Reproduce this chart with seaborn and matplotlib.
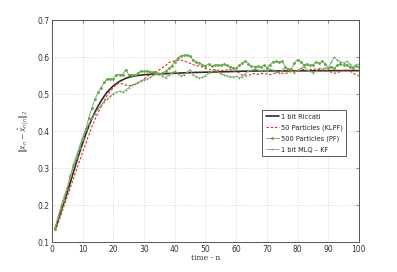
import numpy as np
import pandas as pd
import matplotlib
matplotlib.use("Agg")
import matplotlib.pyplot as plt
import seaborn as sns

n = list(range(1, 101))

riccati = [0.135, 0.160, 0.185, 0.210, 0.235, 0.262, 0.290, 0.317, 0.343, 0.368,
           0.392, 0.414, 0.434, 0.452, 0.468, 0.482, 0.495, 0.506, 0.515, 0.523,
           0.529, 0.535, 0.539, 0.543, 0.546, 0.548, 0.550, 0.551, 0.552, 0.553,
           0.5535, 0.554, 0.5545, 0.555, 0.5553, 0.5556, 0.556, 0.5563, 0.5566, 0.557,
           0.5573, 0.5576, 0.558, 0.5583, 0.5586, 0.559, 0.5592, 0.5594, 0.5596, 0.5598,
           0.560, 0.5602, 0.5604, 0.5606, 0.5608, 0.561, 0.5612, 0.5614, 0.5616, 0.562,
           0.5622, 0.5624, 0.5626, 0.5628, 0.563, 0.563, 0.563, 0.563, 0.563, 0.563,
           0.5632, 0.5632, 0.5632, 0.5632, 0.5632, 0.5634, 0.5634, 0.5634, 0.5634, 0.5634,
           0.5636, 0.5636, 0.5636, 0.5636, 0.5636, 0.5638, 0.5638, 0.5638, 0.5638, 0.5638,
           0.564, 0.564, 0.564, 0.564, 0.564, 0.564, 0.564, 0.564, 0.564, 0.564]

klpf = [0.130, 0.150, 0.175, 0.200, 0.223, 0.248, 0.272, 0.297, 0.320, 0.344,
        0.367, 0.390, 0.412, 0.432, 0.450, 0.467, 0.483, 0.497, 0.508, 0.518,
        0.527, 0.531, 0.528, 0.525, 0.523, 0.525, 0.527, 0.530, 0.536, 0.542,
        0.549, 0.554, 0.558, 0.562, 0.566, 0.572, 0.578, 0.585, 0.589, 0.590,
        0.592, 0.593, 0.590, 0.587, 0.584, 0.580, 0.578, 0.576, 0.574, 0.570,
        0.568, 0.566, 0.567, 0.565, 0.566, 0.564, 0.566, 0.567, 0.563, 0.562,
        0.558, 0.552, 0.549, 0.550, 0.555, 0.556, 0.554, 0.556, 0.557, 0.555,
        0.553, 0.556, 0.558, 0.560, 0.557, 0.556, 0.559, 0.562, 0.564, 0.563,
        0.566, 0.567, 0.564, 0.568, 0.566, 0.569, 0.567, 0.565, 0.566, 0.563,
        0.560, 0.557, 0.558, 0.562, 0.565, 0.566, 0.563, 0.558, 0.552, 0.550]

pf = [0.135, 0.165, 0.190, 0.215, 0.245, 0.280, 0.305, 0.330, 0.355, 0.380,
      0.405, 0.436, 0.463, 0.486, 0.505, 0.518, 0.532, 0.542, 0.542, 0.542,
      0.553, 0.553, 0.553, 0.567, 0.553, 0.553, 0.552, 0.558, 0.563, 0.562,
      0.563, 0.561, 0.560, 0.558, 0.555, 0.558, 0.562, 0.570, 0.577, 0.588,
      0.598, 0.604, 0.605, 0.606, 0.603, 0.592, 0.588, 0.585, 0.580, 0.577,
      0.582, 0.576, 0.579, 0.580, 0.578, 0.581, 0.578, 0.575, 0.572, 0.570,
      0.578, 0.585, 0.590, 0.583, 0.576, 0.574, 0.576, 0.573, 0.578, 0.572,
      0.580, 0.588, 0.589, 0.588, 0.589, 0.575, 0.568, 0.569, 0.584, 0.594,
      0.588, 0.580, 0.582, 0.578, 0.580, 0.587, 0.584, 0.590, 0.582, 0.572,
      0.575, 0.571, 0.578, 0.583, 0.578, 0.580, 0.575, 0.572, 0.576, 0.575]

kf = [0.140, 0.170, 0.200, 0.225, 0.250, 0.280, 0.310, 0.335, 0.360, 0.385,
      0.405, 0.420, 0.435, 0.448, 0.460, 0.470, 0.480, 0.487, 0.495, 0.502,
      0.505, 0.509, 0.505, 0.512, 0.518, 0.525, 0.528, 0.532, 0.536, 0.540,
      0.542, 0.546, 0.551, 0.556, 0.558, 0.550, 0.545, 0.553, 0.558, 0.563,
      0.556, 0.550, 0.553, 0.560, 0.567, 0.552, 0.548, 0.545, 0.546, 0.550,
      0.558, 0.562, 0.567, 0.560, 0.556, 0.553, 0.550, 0.548, 0.547, 0.549,
      0.545, 0.548, 0.556, 0.563, 0.565, 0.568, 0.566, 0.563, 0.566, 0.562,
      0.568, 0.566, 0.560, 0.558, 0.566, 0.572, 0.569, 0.563, 0.558, 0.566,
      0.570, 0.575, 0.566, 0.563, 0.558, 0.562, 0.570, 0.568, 0.572, 0.570,
      0.588, 0.600, 0.593, 0.588, 0.585, 0.589, 0.582, 0.574, 0.580, 0.582]

labels = ["1 bit Riccati", "50 Particles (KLPF)", "500 Particles (PF)", "1 bit MLQ \u2013 KF"]
x_ticks = [0, 10, 20, 30, 40, 50, 60, 70, 80, 90, 100]
y_ticks = [0.1, 0.2, 0.3, 0.4, 0.5, 0.6, 0.7]

sns.set_style("white")
plt.rcParams['font.family'] = ['DejaVu Sans']

fig = plt.figure(figsize=(3.97, 2.72), dpi=100)
ax = fig.add_axes([0.131, 0.110, 0.773, 0.815])

sns.lineplot(x=n, y=riccati, ax=ax, color="#2b2b2b", linewidth=1.2, label=labels[0])
sns.lineplot(x=n, y=klpf, ax=ax, color="#ff2020", linewidth=0.8, linestyle=(0, (2.2, 1.6)), label=labels[1])
sns.lineplot(x=n, y=pf, ax=ax, color="#6f9a55", linewidth=0.6, marker="D", markersize=1.5,
             markerfacecolor="#5fb83a", markeredgecolor="#4f9a30", markeredgewidth=0.3, label=labels[2])
sns.lineplot(x=n, y=kf, ax=ax, color="#8a9a86", linewidth=0.6, marker="o", markersize=1.0,
             markerfacecolor="#5fb83a", markeredgecolor="#5fb83a", markeredgewidth=0.2, label=labels[3])

ax.set_xlim(0, 100)
ax.set_ylim(0.1, 0.7)
ax.set_xticks(x_ticks)
ax.set_yticks(y_ticks)
ax.set_xticklabels([str(t) for t in x_ticks])
ax.set_yticklabels([f"{t:.1f}" for t in y_ticks])
ax.tick_params(direction="in", length=2.5, width=0.5, labelsize=5.5, colors="#555555",
               labelcolor="#333333", pad=2, top=True, right=True)
ax.grid(True, linestyle=(0, (1.5, 2)), color="#cccccc", linewidth=0.5)
for s in ax.spines.values():
    s.set_color("#555555")
    s.set_linewidth(0.7)

ax.set_xlabel("time - n", fontsize=5.5, family="DejaVu Serif", color="#333333", labelpad=0)
ax.set_ylabel(r"$\|x_n - \hat{x}_{n|n}\|_2$", fontsize=5.5, color="#555555", labelpad=4)

leg = ax.legend(loc="upper left", bbox_to_anchor=(0.675, 0.61), fontsize=4.8, frameon=True,
                fancybox=False, edgecolor="#444444", framealpha=1, handlelength=2.0,
                borderpad=0.5, labelspacing=0.7, handletextpad=0.3)
leg.get_frame().set_linewidth(0.6)

fig.savefig("out.png", dpi=100)
